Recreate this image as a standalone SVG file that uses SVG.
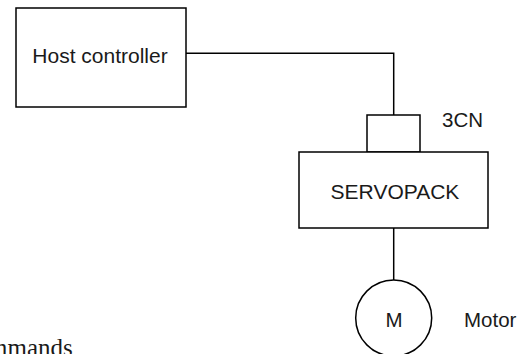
<svg xmlns="http://www.w3.org/2000/svg" width="532" height="354" viewBox="0 0 532 354">
<style>
.box{fill:#fff;stroke:#000;stroke-width:1.5}
.wire{fill:none;stroke:#000;stroke-width:1.5}
.lbl{font-family:"Liberation Sans",Arial,sans-serif;font-size:20.5px;fill:#1a1a1a}
.big{font-size:21px}
.ser{font-family:"Liberation Serif","Times New Roman",serif;font-size:25px;fill:#1a1a1a}
</style>
<rect width="532" height="354" fill="#fff"/>
<g id="connectors">
<polyline class="wire" points="186,53.3 393.7,53.3 393.7,115"/>
<line class="wire" x1="393.7" y1="228" x2="393.7" y2="280"/>
</g>
<g id="host">
<rect class="box" x="16" y="8" width="170" height="99"/>
<text class="lbl big" x="100" y="63" text-anchor="middle">Host controller</text>
</g>
<g id="connector3cn">
<rect class="box" x="367" y="115" width="53" height="37"/>
<text class="lbl" x="442" y="127">3CN</text>
</g>
<g id="servopack">
<rect class="box" x="299" y="152" width="189" height="76"/>
<text class="lbl big" x="395" y="199" text-anchor="middle">SERVOPACK</text>
</g>
<g id="motor">
<circle class="box" cx="393.7" cy="318" r="38"/>
<text class="lbl" x="394" y="326.7" text-anchor="middle">M</text>
<text class="lbl" x="464" y="326.7">Motor</text>
</g>
<text class="ser" x="-35.6" y="355.5">commands</text>
</svg>
